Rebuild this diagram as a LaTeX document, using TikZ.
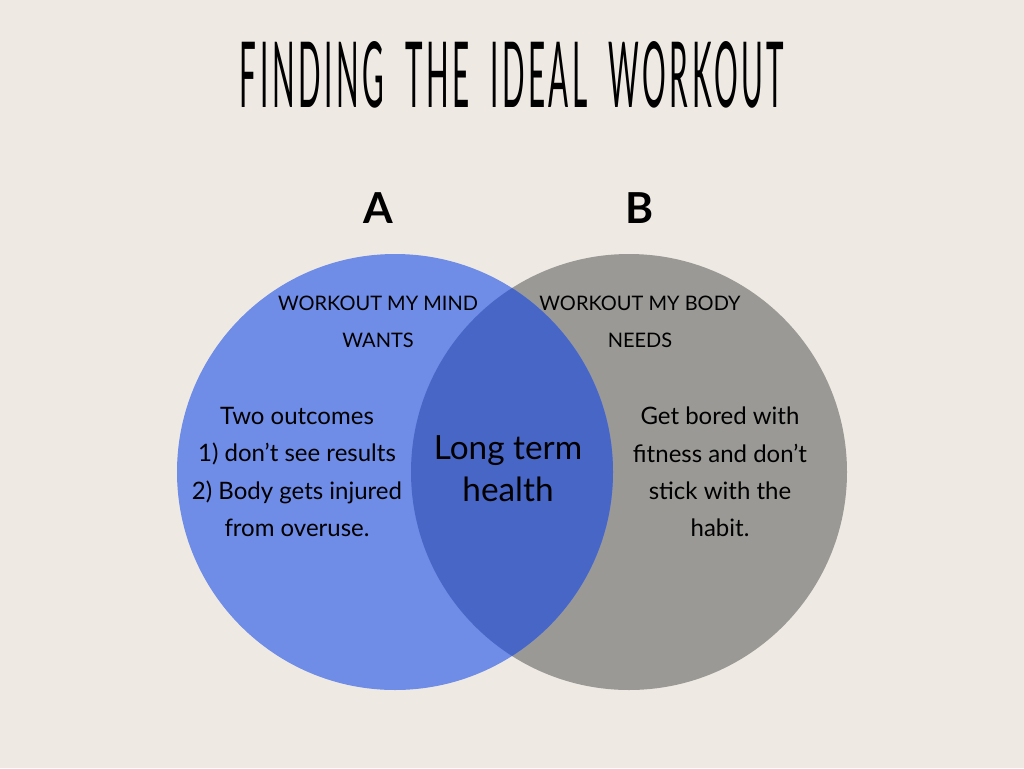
\documentclass[tikz,border=0pt]{standalone}
\usepackage{fontspec}
\setmainfont{Lato}
\newfontfamily\titlefont[LetterSpace=12]{Lato}
\usepackage{xcolor}
\usepackage{tikz}
\definecolor{paper}{HTML}{EEEAE3}
\definecolor{mindblue}{HTML}{6F8CE6}
\definecolor{bodygray}{HTML}{9A9996}
\definecolor{bothblue}{HTML}{4866C6}

\begin{document}
\begin{tikzpicture}[x=0.75pt,y=-0.75pt,inner sep=0pt]
        \tikzset{heading/.style={font=\fontsize{15}{27.75}\selectfont,align=center}};
        \tikzset{body/.style={font=\fontsize{18}{28}\selectfont,align=center}};
        \tikzset{shared/.style={font=\fontsize{25}{31.5}\selectfont,align=center}};
        \tikzset{letter/.style={font=\fontsize{32}{32}\selectfont\bfseries}};

        \fill [paper] (0,0) rectangle (1024,768);
        \useasboundingbox (0,0) rectangle (1024,768);

        \fill [bodygray] (629,472) circle [radius=163.5pt];
        \fill [mindblue] (395,472) circle [radius=163.5pt];
        \begin{scope}
            \clip (395,472) circle [radius=163.5pt];
            \fill [bothblue] (629,472) circle [radius=163.5pt];
        \end{scope}

        \node (title) at (512,75) {\resizebox{408pt}{49.5pt}{\titlefont FINDING\hspace{0.7em}THE\hspace{0.7em}IDEAL\hspace{0.7em}WORKOUT}};
        \node [letter] (a) at (378,208) {A};
        \node [letter] (b) at (640,208) {B};

        \node [heading] (mind) at (378,322) {WORKOUT MY MIND\\WANTS};
        \node [heading] (needs) at (640,322) {WORKOUT MY BODY\\NEEDS};

        \node [body] (outcomes) at (297,472) {Two outcomes\\1) don’t see results\\2) Body gets injured\\from overuse.};
        \node [shared] (health) at (508,469) {Long term\\health};
        \node [body] (bored) at (720,472) {Get bored with\\fitness and don’t\\stick with the\\habit.};
    \end{tikzpicture}
\end{document}
